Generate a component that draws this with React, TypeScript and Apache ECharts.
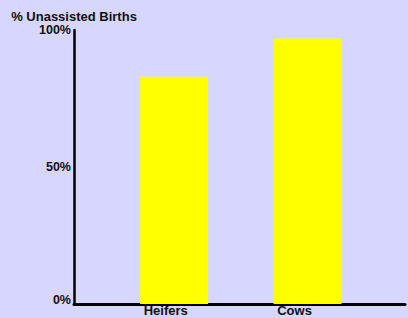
import React, { useEffect, useRef } from "react";
import * as echarts from "echarts";

const categories = ["Heifers", "Cows"];
const unassistedPct = [83, 97];
const yTicks = [0, 50, 100];
const yAxisTitle = "% Unassisted Births";

export default function App() {
  const ref = useRef<HTMLDivElement>(null);
  useEffect(() => {
    document.body.style.margin = "0";
    const chart = echarts.init(ref.current!, null, { renderer: "svg" });
    const font = "Arial, 'Liberation Sans', sans-serif";
    chart.setOption({
      animation: false,
      backgroundColor: "#d6d6ff",
      grid: { left: 74, right: 0, top: 30, bottom: 14, containLabel: false },
      xAxis: {
        type: "value",
        min: 0,
        max: 2.48,
        interval: 0.5,
        axisLine: { show: true, onZero: false, lineStyle: { color: "#000", width: 3 } },
        axisTick: { show: false },
        splitLine: { show: false },
        axisLabel: {
          show: true,
          margin: 0,
          align: "left",
          padding: [0, 0, 0, 3],
          color: "#111",
          fontWeight: "bold",
          fontSize: 13,
          fontFamily: font,
          showMinLabel: true,
          showMaxLabel: true,
          formatter: (v: number) => {
            const i = Math.round(v - 0.5);
            return Math.abs(v - (i + 0.5)) < 1e-6 && categories[i] ? categories[i] : "";
          },
        },
      },
      yAxis: {
        type: "value",
        min: yTicks[0],
        max: yTicks[yTicks.length - 1],
        interval: 50,
        name: yAxisTitle,
        nameLocation: "end",
        nameGap: 14,
        nameTextStyle: {
          color: "#111",
          fontWeight: "bold",
          fontSize: 13,
          fontFamily: font,
          align: "center",
          verticalAlign: "middle",
        },
        axisLine: { show: true, lineStyle: { color: "#000", width: 2.5 } },
        axisTick: { show: false },
        splitLine: { show: false },
        axisLabel: {
          margin: 3,
          color: "#111",
          fontWeight: "bold",
          fontSize: 12.5,
          fontFamily: font,
          formatter: (v: number) => (v === 0 ? "{z|0%}" : `${v}%`),
          rich: {
            z: {
              color: "#111",
              fontWeight: "bold",
              fontSize: 12.5,
              fontFamily: font,
              padding: [0, 0, 9, 0],
            },
          },
        },
      },
      series: [
        {
          type: "bar",
          barWidth: 68,
          itemStyle: { color: "#ffff00" },
          data: unassistedPct.map((v, i) => [i + 0.75, v]),
        },
      ],
    });
    return () => chart.dispose();
  }, []);
  return <div ref={ref} style={{ width: 408, height: 318, position: "fixed", left: 0, top: 0 }} />;
}
